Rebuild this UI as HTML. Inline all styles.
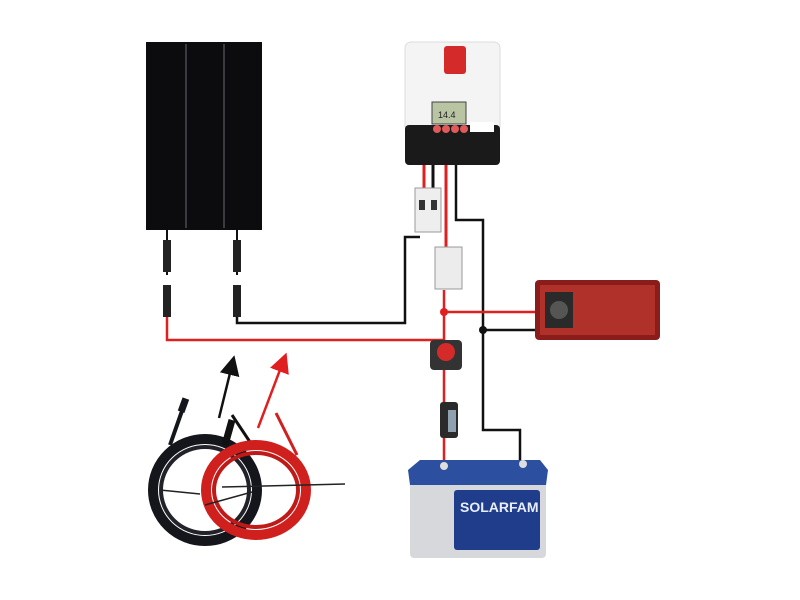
<!DOCTYPE html>
<html><head><meta charset="utf-8"><style>body{margin:0;background:#fff}svg{display:block}</style></head>
<body>
<svg width="800" height="600" viewBox="0 0 800 600" xmlns="http://www.w3.org/2000/svg" font-family="Liberation Sans, sans-serif">
<defs>
<marker id="ab" markerWidth="8" markerHeight="8" refX="4" refY="4" orient="auto"><path d="M0,0 L8,4 L0,8 z" fill="#111"/></marker>
<marker id="ar" markerWidth="8" markerHeight="8" refX="4" refY="4" orient="auto"><path d="M0,0 L8,4 L0,8 z" fill="#e02020"/></marker>
</defs>
<rect x="146" y="42" width="116" height="188" fill="#0c0c0e"/>
<rect x="185" y="44" width="2" height="184" fill="#3a3a40"/>
<rect x="223" y="44" width="2" height="184" fill="#3a3a40"/>
<line x1="167" y1="230" x2="167" y2="275" stroke="#111" stroke-width="2"/>
<line x1="237" y1="230" x2="237" y2="275" stroke="#111" stroke-width="2"/>
<rect x="163" y="240" width="8" height="32" fill="#222"/>
<rect x="233" y="240" width="8" height="32" fill="#222"/>
<rect x="163" y="285" width="8" height="32" fill="#222"/>
<rect x="233" y="285" width="8" height="32" fill="#222"/>
<polyline points="237,317 237,323 405,323 405,237 420,237" fill="none" stroke="#111" stroke-width="2.5"/>
<polyline points="167,317 167,340 444,340" fill="none" stroke="#e02020" stroke-width="2.5"/>
<line x1="424" y1="160" x2="424" y2="192" stroke="#e02020" stroke-width="3"/>
<line x1="433" y1="160" x2="433" y2="192" stroke="#111" stroke-width="3"/>
<line x1="446" y1="160" x2="446" y2="250" stroke="#e02020" stroke-width="3"/>
<polyline points="456,160 456,220 483,220 483,430 520,430 520,462" fill="none" stroke="#111" stroke-width="2.5"/>
<line x1="444" y1="290" x2="444" y2="465" stroke="#e02020" stroke-width="2.5"/>
<line x1="444" y1="312" x2="540" y2="312" stroke="#e02020" stroke-width="2.5"/>
<line x1="483" y1="330" x2="540" y2="330" stroke="#111" stroke-width="2.5"/>
<circle cx="444" cy="312" r="4" fill="#e02020"/>
<circle cx="483" cy="330" r="4" fill="#111"/>
<rect x="405" y="42" width="95" height="90" rx="6" fill="#f4f4f4" stroke="#ddd"/>
<rect x="444" y="46" width="22" height="28" rx="3" fill="#d42a2a"/>
<rect x="432" y="102" width="34" height="22" fill="#b9c4a2" stroke="#444"/>
<text x="438" y="118" font-size="9" fill="#222">14.4</text>
<rect x="405" y="125" width="95" height="40" rx="4" fill="#1a1a1a"/>
<circle cx="437" cy="129" r="4" fill="#e05a5a"/><circle cx="446" cy="129" r="4" fill="#e05a5a"/><circle cx="455" cy="129" r="4" fill="#e05a5a"/><circle cx="464" cy="129" r="4" fill="#e05a5a"/>
<rect x="470" y="122" width="24" height="10" fill="#fff"/>
<rect x="415" y="188" width="26" height="44" fill="#eee" stroke="#999"/>
<rect x="419" y="200" width="6" height="10" fill="#333"/><rect x="431" y="200" width="6" height="10" fill="#333"/>
<rect x="435" y="247" width="27" height="42" fill="#ececec" stroke="#999"/>
<rect x="535" y="280" width="125" height="60" rx="4" fill="#8a1c1c"/>
<rect x="540" y="285" width="115" height="50" fill="#b0302a"/>
<rect x="545" y="292" width="28" height="36" fill="#2a2a2a"/>
<circle cx="559" cy="310" r="9" fill="#555"/>
<rect x="430" y="340" width="32" height="30" rx="4" fill="#333"/>
<circle cx="446" cy="352" r="9" fill="#d42a2a"/>
<rect x="440" y="402" width="18" height="36" rx="3" fill="#2a2a2a"/>
<rect x="448" y="410" width="8" height="22" fill="#8fa0b0"/>
<rect x="410" y="480" width="136" height="78" rx="4" fill="#d6d8db"/>
<path d="M408,470 L420,460 L540,460 L548,470 L546,485 L410,485 z" fill="#2d4fa0"/>
<rect x="454" y="490" width="86" height="60" rx="3" fill="#1f3d8a"/>
<text x="460" y="512" font-size="14" font-weight="bold" fill="#e8eefc">SOLARFAM</text>
<circle cx="444" cy="466" r="4" fill="#ddd"/><circle cx="523" cy="464" r="4" fill="#ddd"/>
<path d="M170,445 L183,408" fill="none" stroke="#15151c" stroke-width="4"/>
<rect x="180" y="398" width="7" height="14" fill="#15151c" transform="rotate(20 183 405)"/>
<ellipse cx="205" cy="490" rx="52" ry="51" fill="none" stroke="#15151c" stroke-width="10"/>
<ellipse cx="205" cy="490" rx="44" ry="43" fill="none" stroke="#22222a" stroke-width="4"/>
<path d="M225,445 L232,420" fill="none" stroke="#111" stroke-width="7"/>
<path d="M232,415 L252,445" fill="none" stroke="#111" stroke-width="3"/>
<ellipse cx="256" cy="490" rx="50" ry="45" fill="none" stroke="#d0201e" stroke-width="10"/>
<ellipse cx="256" cy="490" rx="42" ry="37" fill="none" stroke="#c01a18" stroke-width="4"/>
<path d="M276,413 L297,455" fill="none" stroke="#d0201e" stroke-width="3"/>
<line x1="160" y1="490" x2="200" y2="494" stroke="#222" stroke-width="1.5"/>
<line x1="205" y1="505" x2="252" y2="492" stroke="#222" stroke-width="1.5"/>
<line x1="222" y1="487" x2="345" y2="484" stroke="#222" stroke-width="1.5"/>
<line x1="219" y1="418" x2="232" y2="365" stroke="#111" stroke-width="2.5" marker-end="url(#ab)"/>
<line x1="258" y1="428" x2="283" y2="362" stroke="#e02020" stroke-width="2.5" marker-end="url(#ar)"/>
</svg>
</body></html>
